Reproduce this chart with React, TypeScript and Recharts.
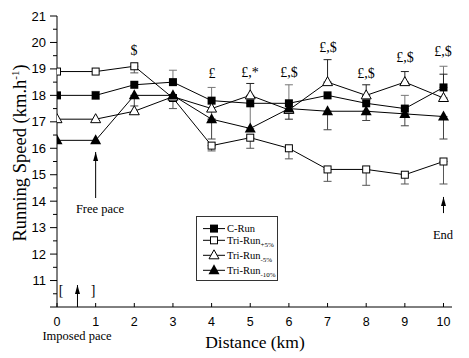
import { Line, LineChart, ReferenceDot, ReferenceLine, XAxis, YAxis, ErrorBar } from 'recharts';

// distance (km)
const km = [0, 1, 2, 3, 4, 5, 6, 7, 8, 9, 10];

// running speed (km/h)
const cRun = [18.0, 18.0, 18.4, 18.5, 17.8, 17.7, 17.7, 18.0, 17.7, 17.5, 18.3];
const triPlus5 = [18.9, 18.9, 19.1, 17.9, 16.1, 16.4, 16.0, 15.2, 15.2, 15.0, 15.5];
const triMinus5 = [17.1, 17.1, 17.4, 17.95, 17.5, 18.0, 17.45, 18.5, 18.0, 18.5, 17.9];
const triMinus10 = [16.3, 16.3, 18.0, 18.0, 17.1, 16.75, 17.5, 17.4, 17.4, 17.3, 17.2];

// error bars as [below, above], null = none drawn
type Err = [number, number] | null;
const cErr: Err[] = [null, [0.15, 0.15], null, [0, 0.45], [0.7, 0.5], [0.95, 0], [0, 0.7], null, null, [0, 0.5], [0, 0.8]];
const plus5Err: Err[] = [null, null, [0.25, 0], [0.4, 0], [0.2, 0], [0.4, 0], [0.4, 0], [0.45, 0], [0.6, 0], [0.35, 0], [0.85, 0]];
const minus5Err: Err[] = [null, null, null, null, null, [0, 0.45], [0.35, 0], [0, 0.85], [0, 0.4], [0, 0.4], [0, 0.9]];
const minus10Err: Err[] = [null, null, [0.4, 0], null, [0.75, 0], null, null, [0.7, 0], [0.35, 0], [0.45, 0], [0.85, 0]];

// significance marks above the points
const markX = [2, 4, 5, 6, 7, 8, 9, 10];
const markY = [19.71, 18.84, 18.89, 18.89, 19.83, 18.85, 19.45, 19.68];
const markText = ['$', '£', '£,*', '£,$', '£,$', '£,$', '£,$', '£,$'];

// arrows (x, from y, to y)
const arrowX = [1, 10, 0.53];
const arrowFrom = [14.12, 13.55, 10.0];
const arrowTo = [15.86, 14.16, 10.83];

// notes
const noteX = [1.1, 10, 0.53, 0.1, 0.925];
const noteY = [13.7, 12.72, 8.9, 10.64, 10.64];
const noteText = ['Free pace', 'End', 'Imposed pace', '[', ']'];

const yTicks = [10, 10.5, 11, 11.5, 12, 12.5, 13, 13.5, 14, 14.5, 15, 15.5, 16, 16.5, 17, 17.5, 18, 18.5, 19, 19.5, 20, 20.5, 21];
const xTicks = [0, 1, 2, 3, 4, 5, 6, 7, 8, 9, 10];

const data = km.map((k, i) => ({
  km: k,
  cRun: cRun[i],
  cErr: cErr[i],
  triPlus5: triPlus5[i],
  plus5Err: plus5Err[i],
  triMinus5: triMinus5[i],
  minus5Err: minus5Err[i],
  triMinus10: triMinus10[i],
  minus10Err: minus10Err[i],
}));

const SERIF = '"Liberation Serif", "DejaVu Serif", serif';
const SANS = '"Liberation Sans", Arial, sans-serif';

const FilledSquare = ({ cx, cy }: any) => <rect x={cx - 4} y={cy - 4} width={8} height={8} fill="#000" />;
const OpenSquare = ({ cx, cy }: any) => (
  <rect x={cx - 3.5} y={cy - 3.5} width={7} height={7} fill="#fff" stroke="#000" strokeWidth={1} />
);
const OpenTriangle = ({ cx, cy }: any) => (
  <polygon points={`${cx},${cy - 5.5} ${cx - 5},${cy + 3.5} ${cx + 5},${cy + 3.5}`} fill="#fff" stroke="#000" strokeWidth={1} />
);
const FilledTriangle = ({ cx, cy }: any) => (
  <polygon points={`${cx},${cy - 6} ${cx - 5.5},${cy + 4} ${cx + 5.5},${cy + 4}`} fill="#000" />
);

const dotOf = (Shape: any, name: string) => (p: any) => <Shape key={`${name}-${p.index}`} cx={p.cx} cy={p.cy} />;

const YTick = ({ x, y, payload }: any) => {
  const v = payload.value;
  const major = Number.isInteger(v);
  return (
    <g>
      <line x1={x - (major ? 7 : 4)} x2={x} y1={y} y2={y} stroke="#000" />
      {major && v > 10 && (
        <text x={x - 11} y={y + 4.5} textAnchor="end" style={{ fontFamily: SANS, fontSize: 13 }} fill="#000">
          {v}
        </text>
      )}
    </g>
  );
};

const XTick = ({ x, y, payload }: any) => (
  <g>
    <line x1={x} x2={x} y1={y} y2={y - 4} stroke="#000" />
    <text x={x} y={y + 19} textAnchor="middle" style={{ fontFamily: SANS, fontSize: 12.5 }} fill="#000">
      {payload.value}
    </text>
  </g>
);

const textShape = (txt: string, size: number) => (p: any) => (
  <text
    x={Math.round(p.cx)}
    y={Math.round(p.cy)}
    textAnchor="middle"
    dominantBaseline="central"
    style={{ fontFamily: SERIF, fontSize: size }}
    fill="#000"
  >
    {txt}
  </text>
);

const ArrowHead = (p: any) => (
  <polygon points={`${p.cx},${p.cy} ${p.cx - 2.5},${p.cy + 9} ${p.cx + 2.5},${p.cy + 9}`} fill="#000" />
);

const legendItems = [
  { name: 'C-Run', sub: '', Shape: FilledSquare },
  { name: 'Tri-Run', sub: '+5%', Shape: OpenSquare },
  { name: 'Tri-Run', sub: '-5%', Shape: OpenTriangle },
  { name: 'Tri-Run', sub: '-10%', Shape: FilledTriangle },
];
const legendRows = [11.6, 23.3, 38.3, 53.3];

const LegendBox = () => (
  <div
    style={{
      position: 'absolute',
      left: 196,
      top: 216,
      width: 80,
      height: 63,
      border: '1px solid #333',
      background: '#fff',
    }}
  >
    <svg width={80} height={63}>
      {legendItems.map((it, i) => (
        <g key={i}>
          <line x1={6} x2={28} y1={legendRows[i]} y2={legendRows[i]} stroke="#000" />
          <it.Shape cx={17} cy={legendRows[i]} />
          <text x={30} y={legendRows[i] + 3.5} style={{ fontFamily: SERIF, fontSize: 10.5 }} fill="#000">
            {it.name}
            {it.sub && (
              <tspan dy={3} style={{ fontSize: 7 }}>
                {it.sub}
              </tspan>
            )}
          </text>
        </g>
      ))}
    </svg>
  </div>
);

// axis titles drawn on top of the chart
const AxisTitles = () => (
  <svg width={469} height={358} style={{ position: 'absolute', left: 0, top: 0, pointerEvents: 'none' }}>
    <text
      transform="translate(26,153) rotate(-90)"
      textAnchor="middle"
      style={{ fontFamily: SERIF, fontSize: 18.5 }}
      fill="#000"
    >
      Running Speed (km.h
      <tspan dy={-7} style={{ fontSize: 11 }}>
        -1
      </tspan>
      <tspan dy={7}>)</tspan>
    </text>
    <text x={255} y={348} textAnchor="middle" style={{ fontFamily: SERIF, fontSize: 17.5 }} fill="#000">
      Distance (km)
    </text>
  </svg>
);

export default function App() {
  return (
    <div style={{ position: 'absolute', left: 0, top: 0, width: 469, height: 358, background: '#fff' }}>
      <LineChart width={469} height={358} data={data} margin={{ top: 16, right: 17, bottom: 0, left: 0 }}>
        <XAxis
          dataKey="km"
          type="number"
          domain={[0, 10.22]}
          ticks={xTicks}
          tick={XTick}
          tickLine={false}
          tickSize={0}
          tickMargin={0}
          height={51}
          stroke="#000"
          allowDataOverflow
        />
        <YAxis
          type="number"
          domain={[10, 21]}
          ticks={yTicks}
          tick={YTick}
          tickLine={false}
          tickSize={0}
          tickMargin={0}
          width={57}
          stroke="#000"
          interval={0}
          allowDataOverflow
        />

        <Line dataKey="cRun" stroke="#000" strokeWidth={1} dot={dotOf(FilledSquare, 'c')} isAnimationActive={false}>
          <ErrorBar dataKey="cErr" width={4} stroke="#777" strokeWidth={1} direction="y" />
        </Line>
        <Line dataKey="triPlus5" stroke="#000" strokeWidth={1} dot={dotOf(OpenSquare, 'p5')} isAnimationActive={false}>
          <ErrorBar dataKey="plus5Err" width={4} stroke="#555" strokeWidth={1} direction="y" />
        </Line>
        <Line dataKey="triMinus5" stroke="#000" strokeWidth={1} dot={dotOf(OpenTriangle, 'm5')} isAnimationActive={false}>
          <ErrorBar dataKey="minus5Err" width={4} stroke="#222" strokeWidth={1} direction="y" />
        </Line>
        <Line dataKey="triMinus10" stroke="#000" strokeWidth={1} dot={dotOf(FilledTriangle, 'm10')} isAnimationActive={false}>
          <ErrorBar dataKey="minus10Err" width={4} stroke="#444" strokeWidth={1} direction="y" />
        </Line>

        {markX.map((x, i) => (
          <ReferenceDot key={`m${i}`} x={x} y={markY[i]} r={0} ifOverflow="visible" shape={textShape(markText[i], 14)} />
        ))}
        {arrowX.map((x, i) => (
          <ReferenceLine
            key={`a${i}`}
            segment={[
              { x, y: arrowFrom[i] },
              { x, y: arrowTo[i] },
            ]}
            stroke="#000"
            ifOverflow="visible"
          />
        ))}
        {arrowX.map((x, i) => (
          <ReferenceDot key={`h${i}`} x={x} y={arrowTo[i]} r={0} ifOverflow="visible" shape={ArrowHead} />
        ))}
        {noteX.map((x, i) => (
          <ReferenceDot
            key={`n${i}`}
            x={x}
            y={noteY[i]}
            r={0}
            ifOverflow="visible"
            shape={textShape(noteText[i], i > 2 ? 14 : 12.5)}
          />
        ))}
      </LineChart>
      <LegendBox />
      <AxisTitles />
    </div>
  );
}
